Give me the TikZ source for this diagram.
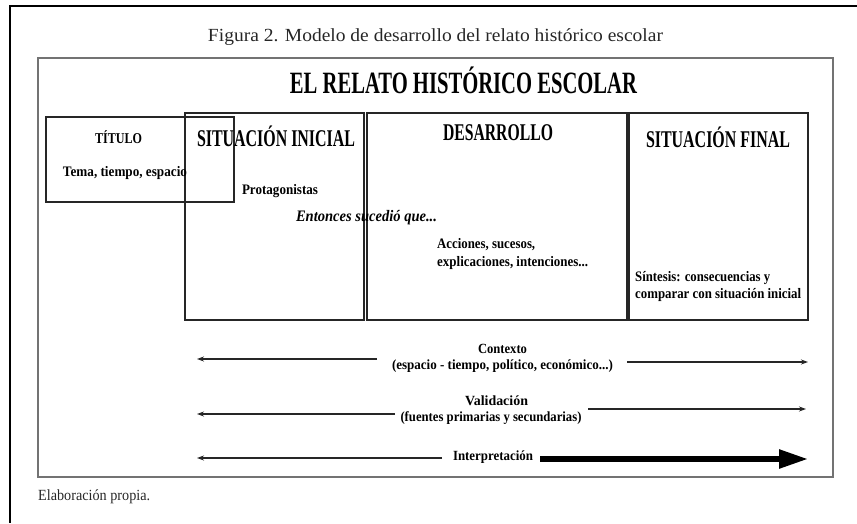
\documentclass[tikz,border=0pt]{standalone}
\usepackage{fontspec}
\setmainfont{Liberation Serif}
\usepackage{graphicx}
\usetikzlibrary{arrows.meta}
\newcommand\fw[2]{\resizebox{#1}{\height}{#2}}
\begin{document}
\begin{tikzpicture}[x=1pt,y=-1pt,
  frame/.style={draw=black!55, line width=1.4pt, minimum width=795pt, minimum height=419pt, inner sep=0pt},
  box/.style={draw=black!85, line width=1.5pt, inner sep=0pt},
  txt/.style={inner sep=0pt, text=black, font=\bfseries\fontsize{14.5}{16}\selectfont},
  head/.style={inner sep=0pt, text=black, font=\bfseries\fontsize{24}{26}\selectfont},
  small/.style={inner sep=0pt, text=black, font=\bfseries\fontsize{14}{16}\selectfont},
  thin/.style={line width=1.3pt, draw=black!85, -{Stealth[length=7pt,width=5pt]}},
  thick/.style={line width=5.5pt, draw=black, -{Triangle[length=29pt,width=18pt]}}
]
\useasboundingbox (0,0) rectangle (857,523);
% outer page edges
\draw[line width=2.2pt] (857,6) -- (10,6) -- (10,523);
% caption
\node[inner sep=0pt, font=\fontsize{18.5}{21}\selectfont, text=black!85] (cap) at (435.5,37) {\fw{455pt}{Figura 2. Modelo de desarrollo del relato histórico escolar}};
% inner frame
\node[frame] (fr) at (435.5,267.5) {};
\node[inner sep=0pt, text=black, font=\bfseries\fontsize{31}{33}\selectfont] (title) at (463.5,80) {\fw{347pt}{EL RELATO HISTÓRICO ESCOLAR}};
% boxes
\node[box, minimum width=188pt, minimum height=85pt] (btit) at (140,159.5) {};
\node[box, minimum width=179pt, minimum height=207pt] (bini) at (274.5,216.5) {};
\node[box, minimum width=260pt, minimum height=207pt] (bdes) at (497,216.5) {};
\node[box, minimum width=179pt, minimum height=207pt] (bfin) at (718.5,216.5) {};
% texts
\node[txt, font=\bfseries\fontsize{15}{17}\selectfont] (ttit) at (118.5,137) {\fw{47pt}{TÍTULO}};
\node[txt] (ttema) at (125,173) {\fw{124pt}{Tema, tiempo, espacio}};
\node[head] (tini) at (276,136) {\fw{158pt}{SITUACIÓN INICIAL}};
\node[txt] (tprot) at (280,191) {\fw{76pt}{Protagonistas}};
\node[txt, font=\bfseries\itshape\fontsize{16}{18}\selectfont] (tent) at (366.5,218) {\fw{141pt}{Entonces sucedió que...}};
\node[head] (tdes) at (498,133) {\fw{110pt}{DESARROLLO}};
\node[txt, anchor=west] (tacc1) at (437,245) {\fw{98pt}{Acciones, sucesos,}};
\node[txt, anchor=west] (tacc2) at (437,263) {\fw{151pt}{explicaciones, intenciones...}};
\node[head] (tfin) at (718,137) {\fw{144pt}{SITUACIÓN FINAL}};
\node[txt, anchor=west] (tsin1) at (635,278) {\fw{135pt}{Síntesis: consecuencias y}};
\node[txt, anchor=west] (tsin2) at (635,295) {\fw{166pt}{comparar con situación inicial}};
% arrows rows
\node[small] (tctx) at (502.5,349) {\fw{49pt}{Contexto}};
\node[small] (tctx2) at (502.5,366) {\fw{221pt}{(espacio - tiempo, político, económico...)}};
\node[small] (tval) at (496.5,401) {\fw{63pt}{Validación}};
\node[small] (tval2) at (491,418) {\fw{181pt}{(fuentes primarias y secundarias)}};
\node[small] (tint) at (493,457) {\fw{80pt}{Interpretación}};
\coordinate (c1a) at (377,359); \coordinate (c1b) at (197,359);
\coordinate (c2a) at (627,362); \coordinate (c2b) at (808,362);
\coordinate (v1a) at (395,414); \coordinate (v1b) at (197,414);
\coordinate (v2a) at (588,409); \coordinate (v2b) at (806,409);
\coordinate (i1a) at (442,458); \coordinate (i1b) at (197,458);
\coordinate (i2a) at (540,459); \coordinate (i2b) at (808,459);
\draw[thin] (c1a) -- (c1b);
\draw[thin] (c2a) -- (c2b);
\draw[thin] (v1a) -- (v1b);
\draw[thin] (v2a) -- (v2b);
\draw[thin] (i1a) -- (i1b);
\draw[thick] (i2a) -- (i2b);
% footer
\node[inner sep=0pt, anchor=west, font=\fontsize{15.5}{18}\selectfont, text=black!85] (foot) at (38,497) {\fw{112pt}{Elaboración propia.}};
\end{tikzpicture}
\end{document}
